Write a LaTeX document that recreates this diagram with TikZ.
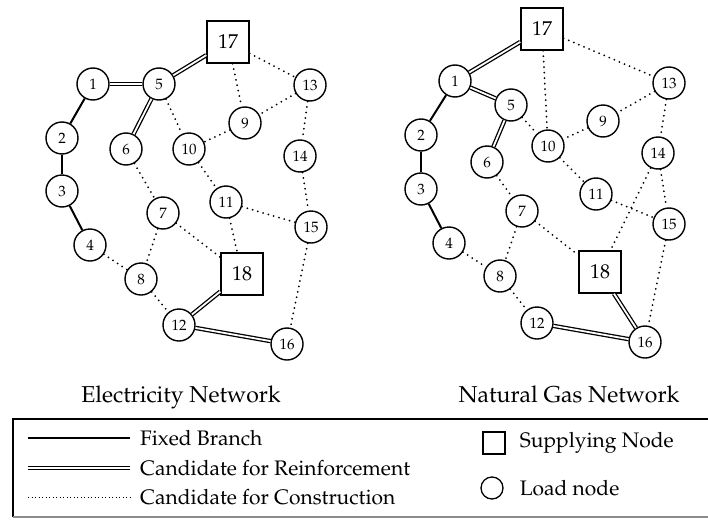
\documentclass[tikz,border=0pt]{standalone}
\usepackage[T1]{fontenc}
\usepackage{mathpazo}
\usepackage{tikz}
\usetikzlibrary{positioning}

\begin{document}
\begin{tikzpicture}[
    x=1pt, y=-1pt,
    load/.style={circle, draw=black, line width=1.4pt, minimum size=32pt, inner sep=0pt, font=\fontsize{15}{17}\selectfont},
    supply/.style={rectangle, draw=black, line width=1.4pt, minimum size=42pt, inner sep=0pt, font=\fontsize{20}{23}\selectfont},
    fixedline/.style={line width=2pt},
    reinforce/.style={double, line width=1.3pt, double distance=1.8pt},
    construct/.style={line width=2pt, dash pattern=on 0pt off 5.5pt, line cap=round},
    legtext/.style={anchor=west, inner xsep=10pt, font=\fontsize{21}{24}\selectfont},
    title/.style={anchor=base, font=\fontsize{23}{26}\selectfont}
]
    \useasboundingbox (0,0) rectangle (708,519);

    % electricity network
    \node[load] (e1) at (93,84) {1};
    \node[load] (e2) at (62,138) {2};
    \node[load] (e3) at (62,191) {3};
    \node[load] (e4) at (90,245) {4};
    \node[load] (e5) at (159,84) {5};
    \node[load] (e6) at (126,149) {6};
    \node[load] (e7) at (163,213) {7};
    \node[load] (e8) at (141,279) {8};
    \node[load] (e9) at (245,123) {9};
    \node[load] (e10) at (189,149) {10};
    \node[load] (e11) at (226,202) {11};
    \node[load] (e12) at (179,325) {12};
    \node[load] (e13) at (310,85) {13};
    \node[load] (e14) at (300,156) {14};
    \node[load] (e15) at (311,227) {15};
    \node[load] (e16) at (287,344) {16};
    \node[supply] (e17) at (228,42) {17};
    \node[supply] (e18) at (242,274) {18};

    \draw[fixedline] (e1) -- (e2);
    \draw[fixedline] (e2) -- (e3);
    \draw[fixedline] (e3) -- (e4);
    \draw[reinforce] (e1) -- (e5);
    \draw[reinforce] (e5) -- (e17);
    \draw[reinforce] (e5) -- (e6);
    \draw[reinforce] (e18) -- (e12);
    \draw[reinforce] (e12) -- (e16);
    \draw[construct] (e17) -- (e9);
    \draw[construct] (e17) -- (e13);
    \draw[construct] (e13) -- (e9);
    \draw[construct] (e9) -- (e10);
    \draw[construct] (e5) -- (e10);
    \draw[construct] (e10) -- (e11);
    \draw[construct] (e13) -- (e14);
    \draw[construct] (e14) -- (e15);
    \draw[construct] (e11) -- (e15);
    \draw[construct] (e11) -- (e18);
    \draw[construct] (e6) -- (e7);
    \draw[construct] (e7) -- (e18);
    \draw[construct] (e7) -- (e8);
    \draw[construct] (e4) -- (e8);
    \draw[construct] (e8) -- (e12);
    \draw[construct] (e15) -- (e16);

    % natural gas network
    \node[load] (g1) at (455,81) {1};
    \node[load] (g2) at (421,135) {2};
    \node[load] (g3) at (421,189) {3};
    \node[load] (g4) at (449,243) {4};
    \node[load] (g5) at (511,105) {5};
    \node[load] (g6) at (487,162) {6};
    \node[load] (g7) at (522,211) {7};
    \node[load] (g8) at (500,276) {8};
    \node[load] (g9) at (603,121) {9};
    \node[load] (g10) at (548,146) {10};
    \node[load] (g11) at (596,194) {11};
    \node[load] (g12) at (537,323) {12};
    \node[load] (g13) at (669,83) {13};
    \node[load] (g14) at (658,153) {14};
    \node[load] (g15) at (669,224) {15};
    \node[load] (g16) at (645,342) {16};
    \node[supply] (g17) at (542,29) {17};
    \node[supply] (g18) at (600,272) {18};

    \draw[fixedline] (g1) -- (g2);
    \draw[fixedline] (g2) -- (g3);
    \draw[fixedline] (g3) -- (g4);
    \draw[reinforce] (g17) -- (g1);
    \draw[reinforce] (g1) -- (g5);
    \draw[reinforce] (g5) -- (g6);
    \draw[reinforce] (g18) -- (g16);
    \draw[reinforce] (g12) -- (g16);
    \draw[construct] (g17) -- (g10);
    \draw[construct] (g17) -- (g13);
    \draw[construct] (g13) -- (g9);
    \draw[construct] (g9) -- (g10);
    \draw[construct] (g5) -- (g10);
    \draw[construct] (g10) -- (g11);
    \draw[construct] (g11) -- (g15);
    \draw[construct] (g13) -- (g14);
    \draw[construct] (g14) -- (g15);
    \draw[construct] (g14) -- (g18);
    \draw[construct] (g6) -- (g7);
    \draw[construct] (g7) -- (g18);
    \draw[construct] (g7) -- (g8);
    \draw[construct] (g4) -- (g8);
    \draw[construct] (g8) -- (g12);
    \draw[construct] (g15) -- (g16);

    % titles
    \node[title] (etitle) at (181,402) {Electricity Network};
    \node[title] (gtitle) at (569,402) {Natural Gas Network};

    % legend
    \draw[line width=1.4pt] (13,517) -- (13,419) -- (712,419);
    \draw[line width=1.4pt, black!45] (13,517) -- (712,517);

    \coordinate (fb) at (28,438);
    \coordinate (cr) at (28,468);
    \coordinate (cc) at (28,497);
    \node[legtext] (fbtxt) at (130,438) {Fixed Branch};
    \node[legtext] (crtxt) at (130,468) {Candidate for Reinforcement};
    \node[legtext] (cctxt) at (130,497) {Candidate for Construction};
    \draw[fixedline] (fb) -- (fbtxt.west);
    \draw[reinforce] (cr) -- (crtxt.west);
    \draw[line width=0.9pt, dash pattern=on 0.9pt off 2.6pt] (cc) -- (cctxt.west);

    \node[rectangle, draw=black, line width=1.3pt, minimum size=22pt, inner sep=0pt] (sqkey) at (494,443) {};
    \node[circle, draw=black, line width=1.3pt, minimum size=22pt, inner sep=0pt] (cikey) at (492,488) {};
    \node[legtext, inner xsep=0pt, right=14pt of sqkey] (sqtxt) {Supplying Node};
    \node[legtext, inner xsep=0pt, right=16pt of cikey] (citxt) {Load node};

\end{tikzpicture}
\end{document}
